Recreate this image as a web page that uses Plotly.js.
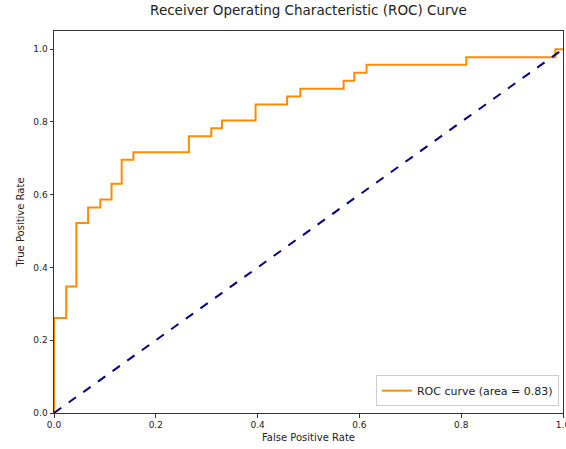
<!DOCTYPE html>
<html>
<head>
<meta charset="utf-8">
<script src="https://cdn.plot.ly/plotly-3.0.1.min.js"></script>
<style>html,body{margin:0;padding:0;background:#fff;}#chart{width:566px;height:449px;}</style>
</head>
<body>
<div id="chart"></div>
<script>
// ROC curve corner points (false positive rate, true positive rate)
const fpr = [0, 0, 0.024, 0.024, 0.044, 0.044, 0.067, 0.067, 0.091, 0.091, 0.113, 0.113, 0.133, 0.133, 0.156, 0.156, 0.265, 0.265, 0.309, 0.309, 0.330, 0.330, 0.396, 0.396, 0.458, 0.458, 0.484, 0.484, 0.569, 0.569, 0.590, 0.590, 0.614, 0.614, 0.810, 0.810, 0.985, 0.985, 1.0];
const tpr = [0, 0.261, 0.261, 0.348, 0.348, 0.522, 0.522, 0.565, 0.565, 0.587, 0.587, 0.630, 0.630, 0.696, 0.696, 0.717, 0.717, 0.761, 0.761, 0.783, 0.783, 0.804, 0.804, 0.848, 0.848, 0.870, 0.870, 0.891, 0.891, 0.913, 0.913, 0.935, 0.935, 0.957, 0.957, 0.978, 0.978, 1.0, 1.0];
const chanceX = [0, 1];
const chanceY = [0, 1];
const aucValue = 0.83;
const xTicks = [0, 0.2, 0.4, 0.6, 0.8, 1.0];
const xTickText = ['0.0', '0.2', '0.4', '0.6', '0.8', '1.0'];
const yTicks = [0, 0.2, 0.4, 0.6, 0.8, 1.0];
const yTickText = ['0.0', '0.2', '0.4', '0.6', '0.8', '1.0'];

const font = 'DejaVu Sans, sans-serif';
const traces = [
  {
    x: fpr, y: tpr, type: 'scatter', mode: 'lines',
    name: 'ROC curve (area = ' + aucValue.toFixed(2) + ')',
    line: {color: '#ff8c00', width: 2}
  },
  {
    x: chanceX, y: chanceY, type: 'scatter', mode: 'lines',
    showlegend: false,
    line: {color: '#000080', width: 2, dash: 'dash'}
  }
];
const axisCommon = {
  showgrid: false, zeroline: false,
  showline: true, mirror: true, linecolor: '#333', linewidth: 1,
  ticks: 'outside', ticklen: 3.5, tickcolor: '#333', tickwidth: 1,
  ticklabeloverflow: 'allow',
  tickfont: {family: font, size: 9, color: '#222'}
};
const layout = {
  width: 566, height: 449,
  margin: {l: 54, r: 3, t: 31, b: 36},
  paper_bgcolor: '#fff', plot_bgcolor: '#fff',
  title: {text: 'Receiver Operating Characteristic (ROC) Curve', font: {family: font, size: 13.5, color: '#222'}, x: 0.5, xref: 'paper', xanchor: 'center', y: 0.988, yanchor: 'top'},
  xaxis: Object.assign({}, axisCommon, {
    range: [0, 1], tickvals: xTicks, ticktext: xTickText,
    title: {text: 'False Positive Rate', font: {family: font, size: 10, color: '#222'}, standoff: 4}
  }),
  yaxis: Object.assign({}, axisCommon, {
    range: [0, 1.05], tickvals: yTicks, ticktext: yTickText,
    title: {text: 'True Positive Rate', font: {family: font, size: 10, color: '#222'}, standoff: 6}
  }),
  showlegend: true,
  legend: {
    x: 0.992, xanchor: 'right', y: 0.018, yanchor: 'bottom',
    bgcolor: 'rgba(255,255,255,0.8)', bordercolor: '#ccc', borderwidth: 1,
    font: {family: font, size: 11, color: '#222'},
    itemwidth: 30
  }
};
Plotly.newPlot('chart', traces, layout, {displayModeBar: false, staticPlot: true});
</script>
</body>
</html>
